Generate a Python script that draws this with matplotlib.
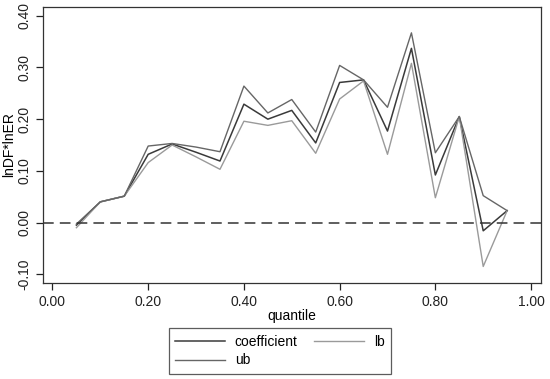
import matplotlib
matplotlib.use("Agg")
import matplotlib.pyplot as plt

plt.rcParams['font.family'] = ['Liberation Sans', 'DejaVu Sans']

quantile = [0.05, 0.10, 0.15, 0.20, 0.25, 0.30, 0.35, 0.40, 0.45, 0.50,
            0.55, 0.60, 0.65, 0.70, 0.75, 0.80, 0.85, 0.90, 0.95]
coefficient = [-0.005, 0.040, 0.051, 0.132, 0.152, 0.136, 0.119, 0.229, 0.200, 0.217,
               0.154, 0.271, 0.276, 0.177, 0.337, 0.092, 0.205, -0.016, 0.023]
lb = [-0.010, 0.040, 0.051, 0.116, 0.150, 0.127, 0.103, 0.196, 0.188, 0.197,
      0.134, 0.239, 0.274, 0.132, 0.308, 0.048, 0.205, -0.085, 0.023]
ub = [-0.003, 0.040, 0.051, 0.148, 0.153, 0.146, 0.137, 0.264, 0.212, 0.238,
      0.175, 0.304, 0.276, 0.223, 0.367, 0.135, 0.205, 0.052, 0.023]
xticks = [0.0, 0.2, 0.4, 0.6, 0.8, 1.0]
yticks = [-0.1, 0.0, 0.1, 0.2, 0.3, 0.4]

fig = plt.figure(figsize=(5.5, 3.79), dpi=100)
ax = fig.add_axes([0.078, 0.2533, 0.905, 0.7282])

l1, = ax.plot(quantile, coefficient, color='#3a3a3a', lw=1.1, label='coefficient')
l2, = ax.plot(quantile, lb, color='#9a9a9a', lw=1.0, label='lb')
l3, = ax.plot(quantile, ub, color='#666666', lw=1.0, label='ub')
ax.axhline(0, color='#333333', lw=1.1, ls=(0, (7, 4)))

ax.set_xlim(-0.02, 1.02)
ax.set_ylim(-0.117, 0.417)
ax.set_xticks(xticks)
ax.set_xticklabels([f"{t:.2f}" for t in xticks])
ax.set_yticks(yticks)
ax.set_yticklabels([f"{t:.2f}" for t in yticks], rotation=90, va='center')
ax.tick_params(direction='out', length=5, width=0.9, labelsize=10, colors='#222222')
for s in ax.spines.values():
    s.set_color('#333333')
    s.set_linewidth(0.9)
ax.set_xlabel('quantile', fontsize=10, labelpad=0)
ax.set_ylabel('lnDF*lnER', fontsize=10, labelpad=1)

leg = fig.legend(handles=[l1, l3, l2], ncol=2, loc='center',
                 bbox_to_anchor=(280/550, 1-351/379), fontsize=10,
                 frameon=True, fancybox=False, edgecolor='#333333',
                 handlelength=3.6, columnspacing=1.2, handletextpad=0.7,
                 borderpad=0.45, labelspacing=0.35)
leg.get_frame().set_linewidth(0.9)

fig.savefig('out.png', dpi=100)
